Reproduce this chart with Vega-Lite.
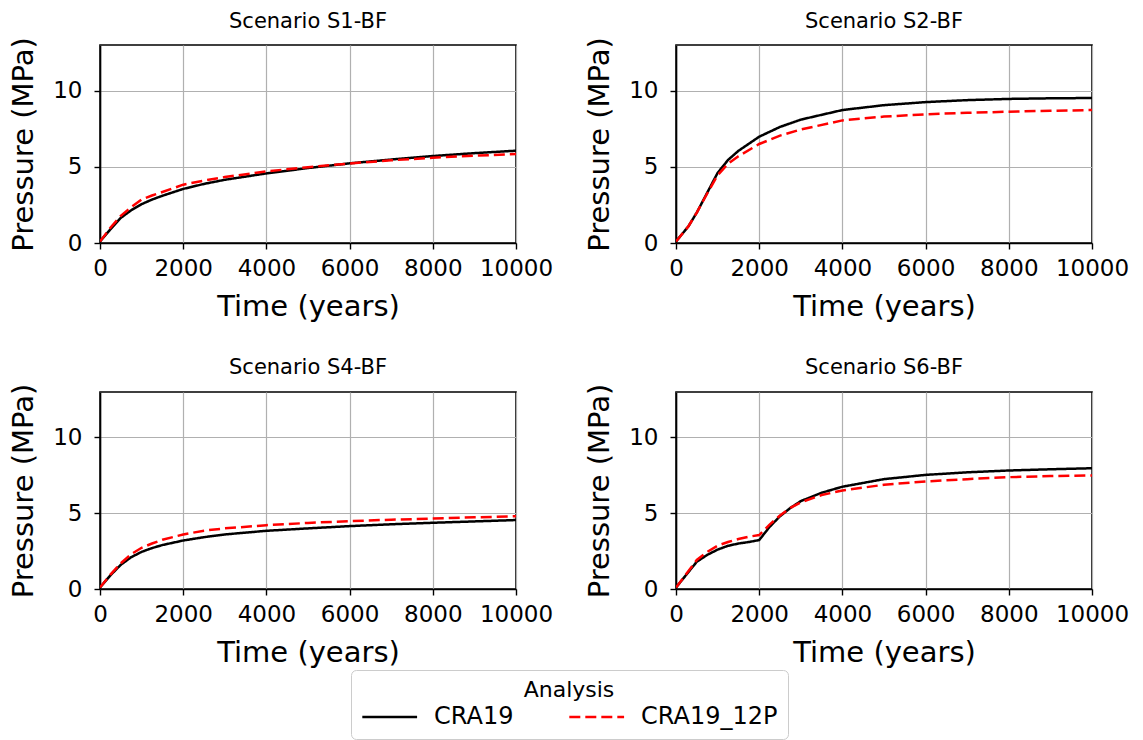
{
  "$schema": "https://vega.github.io/schema/vega-lite/v6.json",
  "padding": {"left": 8, "top": 9, "right": 5, "bottom": 0},
  "background": "white",
  "datasets": {
    "pressure": [
      {"s":"S1-BF","a":"CRA19","t":0,"p":0.1},{"s":"S1-BF","a":"CRA19","t":250,"p":0.9},{"s":"S1-BF","a":"CRA19","t":500,"p":1.65},{"s":"S1-BF","a":"CRA19","t":750,"p":2.15},{"s":"S1-BF","a":"CRA19","t":1000,"p":2.55},{"s":"S1-BF","a":"CRA19","t":1250,"p":2.85},{"s":"S1-BF","a":"CRA19","t":1500,"p":3.1},{"s":"S1-BF","a":"CRA19","t":2000,"p":3.55},{"s":"S1-BF","a":"CRA19","t":2500,"p":3.88},{"s":"S1-BF","a":"CRA19","t":3000,"p":4.15},{"s":"S1-BF","a":"CRA19","t":4000,"p":4.57},{"s":"S1-BF","a":"CRA19","t":5000,"p":4.92},{"s":"S1-BF","a":"CRA19","t":6000,"p":5.23},{"s":"S1-BF","a":"CRA19","t":7000,"p":5.48},{"s":"S1-BF","a":"CRA19","t":8000,"p":5.71},{"s":"S1-BF","a":"CRA19","t":9000,"p":5.9},{"s":"S1-BF","a":"CRA19","t":10000,"p":6.06},
      {"s":"S1-BF","a":"CRA19_12P","t":0,"p":0.1},{"s":"S1-BF","a":"CRA19_12P","t":250,"p":1.0},{"s":"S1-BF","a":"CRA19_12P","t":500,"p":1.78},{"s":"S1-BF","a":"CRA19_12P","t":750,"p":2.35},{"s":"S1-BF","a":"CRA19_12P","t":1000,"p":2.85},{"s":"S1-BF","a":"CRA19_12P","t":1250,"p":3.12},{"s":"S1-BF","a":"CRA19_12P","t":1500,"p":3.35},{"s":"S1-BF","a":"CRA19_12P","t":2000,"p":3.83},{"s":"S1-BF","a":"CRA19_12P","t":2500,"p":4.1},{"s":"S1-BF","a":"CRA19_12P","t":3000,"p":4.33},{"s":"S1-BF","a":"CRA19_12P","t":4000,"p":4.7},{"s":"S1-BF","a":"CRA19_12P","t":5000,"p":4.98},{"s":"S1-BF","a":"CRA19_12P","t":6000,"p":5.22},{"s":"S1-BF","a":"CRA19_12P","t":7000,"p":5.43},{"s":"S1-BF","a":"CRA19_12P","t":8000,"p":5.6},{"s":"S1-BF","a":"CRA19_12P","t":9000,"p":5.73},{"s":"S1-BF","a":"CRA19_12P","t":10000,"p":5.84},
      {"s":"S2-BF","a":"CRA19","t":0,"p":0.1},{"s":"S2-BF","a":"CRA19","t":300,"p":1.1},{"s":"S2-BF","a":"CRA19","t":500,"p":2.0},{"s":"S2-BF","a":"CRA19","t":750,"p":3.3},{"s":"S2-BF","a":"CRA19","t":1000,"p":4.6},{"s":"S2-BF","a":"CRA19","t":1250,"p":5.45},{"s":"S2-BF","a":"CRA19","t":1500,"p":6.05},{"s":"S2-BF","a":"CRA19","t":2000,"p":6.98},{"s":"S2-BF","a":"CRA19","t":2500,"p":7.62},{"s":"S2-BF","a":"CRA19","t":3000,"p":8.1},{"s":"S2-BF","a":"CRA19","t":4000,"p":8.73},{"s":"S2-BF","a":"CRA19","t":5000,"p":9.05},{"s":"S2-BF","a":"CRA19","t":6000,"p":9.25},{"s":"S2-BF","a":"CRA19","t":7000,"p":9.38},{"s":"S2-BF","a":"CRA19","t":8000,"p":9.46},{"s":"S2-BF","a":"CRA19","t":9000,"p":9.5},{"s":"S2-BF","a":"CRA19","t":10000,"p":9.52},
      {"s":"S2-BF","a":"CRA19_12P","t":0,"p":0.1},{"s":"S2-BF","a":"CRA19_12P","t":300,"p":1.1},{"s":"S2-BF","a":"CRA19_12P","t":500,"p":2.0},{"s":"S2-BF","a":"CRA19_12P","t":750,"p":3.25},{"s":"S2-BF","a":"CRA19_12P","t":1000,"p":4.45},{"s":"S2-BF","a":"CRA19_12P","t":1250,"p":5.2},{"s":"S2-BF","a":"CRA19_12P","t":1500,"p":5.7},{"s":"S2-BF","a":"CRA19_12P","t":2000,"p":6.5},{"s":"S2-BF","a":"CRA19_12P","t":2500,"p":7.05},{"s":"S2-BF","a":"CRA19_12P","t":3000,"p":7.45},{"s":"S2-BF","a":"CRA19_12P","t":4000,"p":8.05},{"s":"S2-BF","a":"CRA19_12P","t":5000,"p":8.3},{"s":"S2-BF","a":"CRA19_12P","t":6000,"p":8.45},{"s":"S2-BF","a":"CRA19_12P","t":7000,"p":8.55},{"s":"S2-BF","a":"CRA19_12P","t":8000,"p":8.62},{"s":"S2-BF","a":"CRA19_12P","t":9000,"p":8.68},{"s":"S2-BF","a":"CRA19_12P","t":10000,"p":8.73},
      {"s":"S4-BF","a":"CRA19","t":0,"p":0.1},{"s":"S4-BF","a":"CRA19","t":250,"p":0.9},{"s":"S4-BF","a":"CRA19","t":500,"p":1.6},{"s":"S4-BF","a":"CRA19","t":750,"p":2.1},{"s":"S4-BF","a":"CRA19","t":1000,"p":2.45},{"s":"S4-BF","a":"CRA19","t":1250,"p":2.7},{"s":"S4-BF","a":"CRA19","t":1500,"p":2.9},{"s":"S4-BF","a":"CRA19","t":2000,"p":3.2},{"s":"S4-BF","a":"CRA19","t":2500,"p":3.42},{"s":"S4-BF","a":"CRA19","t":3000,"p":3.6},{"s":"S4-BF","a":"CRA19","t":4000,"p":3.84},{"s":"S4-BF","a":"CRA19","t":5000,"p":4.0},{"s":"S4-BF","a":"CRA19","t":6000,"p":4.15},{"s":"S4-BF","a":"CRA19","t":7000,"p":4.27},{"s":"S4-BF","a":"CRA19","t":8000,"p":4.37},{"s":"S4-BF","a":"CRA19","t":9000,"p":4.46},{"s":"S4-BF","a":"CRA19","t":10000,"p":4.55},
      {"s":"S4-BF","a":"CRA19_12P","t":0,"p":0.1},{"s":"S4-BF","a":"CRA19_12P","t":250,"p":0.95},{"s":"S4-BF","a":"CRA19_12P","t":500,"p":1.7},{"s":"S4-BF","a":"CRA19_12P","t":750,"p":2.3},{"s":"S4-BF","a":"CRA19_12P","t":1000,"p":2.72},{"s":"S4-BF","a":"CRA19_12P","t":1250,"p":3.0},{"s":"S4-BF","a":"CRA19_12P","t":1500,"p":3.25},{"s":"S4-BF","a":"CRA19_12P","t":2000,"p":3.6},{"s":"S4-BF","a":"CRA19_12P","t":2500,"p":3.85},{"s":"S4-BF","a":"CRA19_12P","t":3000,"p":4.0},{"s":"S4-BF","a":"CRA19_12P","t":4000,"p":4.21},{"s":"S4-BF","a":"CRA19_12P","t":5000,"p":4.36},{"s":"S4-BF","a":"CRA19_12P","t":6000,"p":4.48},{"s":"S4-BF","a":"CRA19_12P","t":7000,"p":4.57},{"s":"S4-BF","a":"CRA19_12P","t":8000,"p":4.65},{"s":"S4-BF","a":"CRA19_12P","t":9000,"p":4.73},{"s":"S4-BF","a":"CRA19_12P","t":10000,"p":4.8},
      {"s":"S6-BF","a":"CRA19","t":0,"p":0.1},{"s":"S6-BF","a":"CRA19","t":250,"p":0.95},{"s":"S6-BF","a":"CRA19","t":500,"p":1.8},{"s":"S6-BF","a":"CRA19","t":750,"p":2.25},{"s":"S6-BF","a":"CRA19","t":1000,"p":2.6},{"s":"S6-BF","a":"CRA19","t":1250,"p":2.85},{"s":"S6-BF","a":"CRA19","t":1500,"p":3.0},{"s":"S6-BF","a":"CRA19","t":1750,"p":3.1},{"s":"S6-BF","a":"CRA19","t":2000,"p":3.23},{"s":"S6-BF","a":"CRA19","t":2250,"p":4.1},{"s":"S6-BF","a":"CRA19","t":2500,"p":4.8},{"s":"S6-BF","a":"CRA19","t":2750,"p":5.35},{"s":"S6-BF","a":"CRA19","t":3000,"p":5.8},{"s":"S6-BF","a":"CRA19","t":3500,"p":6.35},{"s":"S6-BF","a":"CRA19","t":4000,"p":6.75},{"s":"S6-BF","a":"CRA19","t":5000,"p":7.25},{"s":"S6-BF","a":"CRA19","t":6000,"p":7.53},{"s":"S6-BF","a":"CRA19","t":7000,"p":7.7},{"s":"S6-BF","a":"CRA19","t":8000,"p":7.82},{"s":"S6-BF","a":"CRA19","t":9000,"p":7.9},{"s":"S6-BF","a":"CRA19","t":10000,"p":7.97},
      {"s":"S6-BF","a":"CRA19_12P","t":0,"p":0.1},{"s":"S6-BF","a":"CRA19_12P","t":250,"p":1.0},{"s":"S6-BF","a":"CRA19_12P","t":500,"p":1.92},{"s":"S6-BF","a":"CRA19_12P","t":750,"p":2.45},{"s":"S6-BF","a":"CRA19_12P","t":1000,"p":2.86},{"s":"S6-BF","a":"CRA19_12P","t":1250,"p":3.1},{"s":"S6-BF","a":"CRA19_12P","t":1500,"p":3.3},{"s":"S6-BF","a":"CRA19_12P","t":1750,"p":3.45},{"s":"S6-BF","a":"CRA19_12P","t":2000,"p":3.56},{"s":"S6-BF","a":"CRA19_12P","t":2250,"p":4.25},{"s":"S6-BF","a":"CRA19_12P","t":2500,"p":4.85},{"s":"S6-BF","a":"CRA19_12P","t":2750,"p":5.35},{"s":"S6-BF","a":"CRA19_12P","t":3000,"p":5.72},{"s":"S6-BF","a":"CRA19_12P","t":3500,"p":6.2},{"s":"S6-BF","a":"CRA19_12P","t":4000,"p":6.5},{"s":"S6-BF","a":"CRA19_12P","t":5000,"p":6.88},{"s":"S6-BF","a":"CRA19_12P","t":6000,"p":7.1},{"s":"S6-BF","a":"CRA19_12P","t":7000,"p":7.25},{"s":"S6-BF","a":"CRA19_12P","t":8000,"p":7.38},{"s":"S6-BF","a":"CRA19_12P","t":9000,"p":7.45},{"s":"S6-BF","a":"CRA19_12P","t":10000,"p":7.49}
    ]
  },
  "data": {"name": "pressure"},
  "columns": 2,
  "spacing": {"column": 30, "row": 34},
  "concat": [
    {
      "title": "Scenario S1-BF",
      "width": 416, "height": 198,
      "transform": [{"filter": "datum.s === 'S1-BF'"}],
      "mark": {"type": "line", "strokeWidth": 2.5, "clip": true},
      "encoding": {
        "x": {"field": "t", "type": "quantitative", "title": "Time (years)", "scale": {"domain": [0, 10000], "nice": false}, "axis": {"values": [0,2000,4000,6000,8000,10000], "format": "d"}},
        "y": {"field": "p", "type": "quantitative", "title": "Pressure (MPa)", "scale": {"domain": [0, 13], "nice": false}, "axis": {"values": [0,5,10]}},
        "color": {"field": "a", "type": "nominal", "title": "Analysis", "scale": {"domain": ["CRA19","CRA19_12P"], "range": ["#000000","#ff0000"]}},
        "strokeDash": {"field": "a", "type": "nominal", "title": "Analysis", "scale": {"domain": ["CRA19","CRA19_12P"], "range": [[1,0],[11,5]]}}
      }
    },
    {
      "title": "Scenario S2-BF",
      "width": 416, "height": 198,
      "transform": [{"filter": "datum.s === 'S2-BF'"}],
      "mark": {"type": "line", "strokeWidth": 2.5, "clip": true},
      "encoding": {
        "x": {"field": "t", "type": "quantitative", "title": "Time (years)", "scale": {"domain": [0, 10000], "nice": false}, "axis": {"values": [0,2000,4000,6000,8000,10000], "format": "d"}},
        "y": {"field": "p", "type": "quantitative", "title": "Pressure (MPa)", "scale": {"domain": [0, 13], "nice": false}, "axis": {"values": [0,5,10]}},
        "color": {"field": "a", "type": "nominal", "title": "Analysis", "scale": {"domain": ["CRA19","CRA19_12P"], "range": ["#000000","#ff0000"]}},
        "strokeDash": {"field": "a", "type": "nominal", "title": "Analysis", "scale": {"domain": ["CRA19","CRA19_12P"], "range": [[1,0],[11,5]]}}
      }
    },
    {
      "title": "Scenario S4-BF",
      "width": 416, "height": 197,
      "transform": [{"filter": "datum.s === 'S4-BF'"}],
      "mark": {"type": "line", "strokeWidth": 2.5, "clip": true},
      "encoding": {
        "x": {"field": "t", "type": "quantitative", "title": "Time (years)", "scale": {"domain": [0, 10000], "nice": false}, "axis": {"values": [0,2000,4000,6000,8000,10000], "format": "d"}},
        "y": {"field": "p", "type": "quantitative", "title": "Pressure (MPa)", "scale": {"domain": [0, 13], "nice": false}, "axis": {"values": [0,5,10]}},
        "color": {"field": "a", "type": "nominal", "title": "Analysis", "scale": {"domain": ["CRA19","CRA19_12P"], "range": ["#000000","#ff0000"]}},
        "strokeDash": {"field": "a", "type": "nominal", "title": "Analysis", "scale": {"domain": ["CRA19","CRA19_12P"], "range": [[1,0],[11,5]]}}
      }
    },
    {
      "title": "Scenario S6-BF",
      "width": 416, "height": 197,
      "transform": [{"filter": "datum.s === 'S6-BF'"}],
      "mark": {"type": "line", "strokeWidth": 2.5, "clip": true},
      "encoding": {
        "x": {"field": "t", "type": "quantitative", "title": "Time (years)", "scale": {"domain": [0, 10000], "nice": false}, "axis": {"values": [0,2000,4000,6000,8000,10000], "format": "d"}},
        "y": {"field": "p", "type": "quantitative", "title": "Pressure (MPa)", "scale": {"domain": [0, 13], "nice": false}, "axis": {"values": [0,5,10]}},
        "color": {"field": "a", "type": "nominal", "title": "Analysis", "scale": {"domain": ["CRA19","CRA19_12P"], "range": ["#000000","#ff0000"]}},
        "strokeDash": {"field": "a", "type": "nominal", "title": "Analysis", "scale": {"domain": ["CRA19","CRA19_12P"], "range": [[1,0],[11,5]]}}
      }
    }
  ],
  "config": {
    "font": "DejaVu Sans",
    "view": {"stroke": "#000000", "strokeWidth": 1.6},
    "title": {"fontSize": 21, "fontWeight": "normal", "color": "#000000", "offset": 5, "anchor": "middle"},
    "axis": {
      "labelFont": "DejaVu Sans", "labelFontSize": 23, "labelColor": "#000000",
      "titleFont": "DejaVu Sans", "titleFontSize": 29, "titleFontWeight": "normal", "titleColor": "#000000",
      "domainColor": "#000000", "domainWidth": 1.6,
      "tickColor": "#000000", "tickSize": 6, "tickWidth": 1.4,
      "gridColor": "#b0b0b0", "gridWidth": 1.2, "gridOpacity": 1,
      "labelPadding": 8, "titlePadding": 12, "labelFlush": false, "labelOverlap": false
    },
    "axisY": {"labelPadding": 12, "titlePadding": 14},
    "legend": {
      "orient": "bottom", "direction": "horizontal",
      "layout": {"bottom": {"anchor": "middle"}},
      "titleAnchor": "middle", "titleFontSize": 22, "titleFontWeight": "normal", "titleColor": "#000000", "titlePadding": 0,
      "labelFontSize": 24, "labelColor": "#000000", "labelOffset": 43,
      "symbolType": "M-1,0H3", "symbolSize": 750, "symbolStrokeWidth": 2.5,
      "strokeColor": "#cccccc", "cornerRadius": 5, "padding": 10, "columnPadding": 50, "offset": 2
    }
  }
}
